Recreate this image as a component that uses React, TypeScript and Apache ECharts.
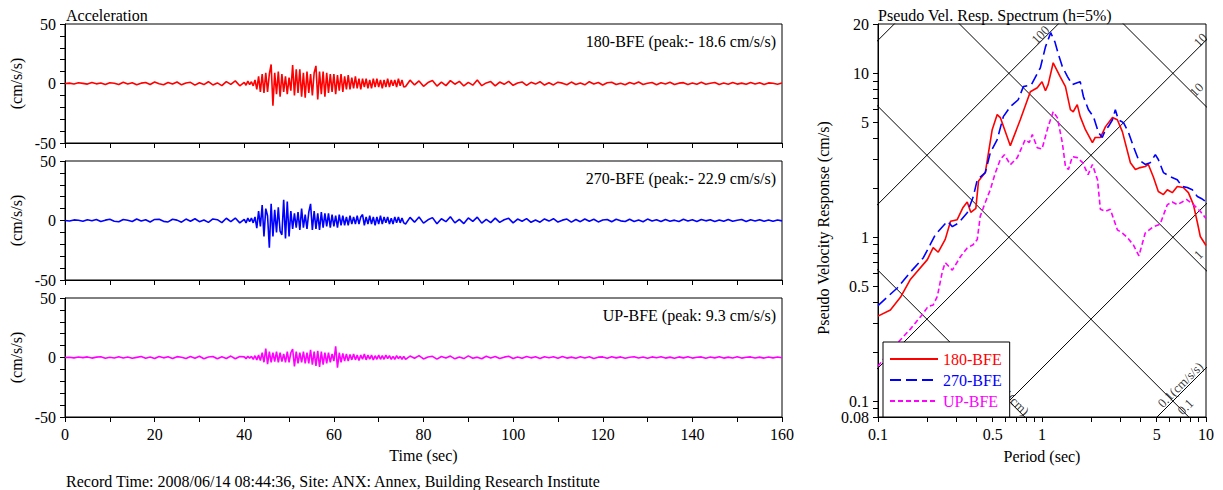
import React, { useEffect, useRef } from 'react';
import * as echarts from 'echarts';

const FONT = '"Liberation Serif", "Times New Roman", serif';

// ---------- Acceleration time histories (cm/s/s) ----------
// pre-event part: t = 0, 1, 2, ... 39 s
const RED_PRE = [0, 0.3, -0.4, 0.6, 0.1, -0.5, 0.8, -0.3, 0.4, -0.9, 0.6, 0.2, -0.8, 1.0, -0.4, 0.7, -1.1, 0.3, 0.9, -0.8, 1.2, -0.2, -1.0, 0.8, -0.5, 1.3, -1.1, 0.4, 1.0, -1.4, 0.6, -0.9, 1.5, -1.2, 0.5, -1.8, 1.6, -0.7, 2.2, -1.9];
const BLUE_PRE = [0, -0.4, 0.5, 0.2, -0.7, 0.6, -0.2, 0.9, -0.8, 0.3, 1.0, -0.6, -1.1, 0.8, 0.2, -0.9, 1.2, -0.5, 0.6, -1.3, 0.9, 1.1, -0.7, -1.2, 1.0, 0.3, -1.4, 1.2, -0.6, 1.5, -1.0, 0.4, -1.6, 1.3, 0.7, -1.8, 1.9, -0.9, 2.1, -2.0];
const MAG_PRE = [0, 0.2, -0.3, 0.4, -0.1, 0.5, -0.5, 0.3, 0.6, -0.6, 0.2, -0.4, 0.7, -0.5, 0.5, -0.7, 0.1, 0.8, -0.6, 0.4, -0.8, 0.9, -0.3, 0.6, -0.9, 0.7, 0.2, -0.8, 0.9, -0.6, 1.1, -1.0, 0.4, 0.9, -1.1, 0.6, -0.8, 1.2, -1.0, 0.8];

// strong-motion part: t = 40.0, 40.4, 40.8, ... s
const RED_STRONG = [1, -1.5, 2, -1, 1.5, -2, 3, -5, 6, -7, 8, -8, 9, -7, 8, 16, -18.6, 9, -9, 10, -11, 8, -7, 6, -9, 5, -6, 15.5, -10, 12, -8, 12, -11, 9, -12, 10, -8, 8, -10, 9, 14.8, -13.5, 10, -9, 10, -11, 9, -8, 8, -7, 8, -9, 7, -6, 8, -7, 6, -5, 7, -5, 5, -4, 6, -4, 4, -5, 4, -3, 4, -4, 3, -4, 4, -3, 4, -3, 3, -4, 3, -3, 4, -3, 3, -2, 3, -3, 4, -2, 3, -3];
const BLUE_STRONG = [1, -2, 2, -1, 2, -2, 3, -6.5, 8, -5, 13, -13.5, 10, 4, -22.9, 14, -13.5, 9, -10, 11, -9, -12, 17.5, -15, 16, -13.5, 8, -7, 6, -6, 7, -8, 10, -6, 5, -7, 7, 14, -8, 8, -7, 6, -8, 7, -6, 6, -5, 6, -6, 5, -5, 4, -6, 5, -4, 4, -4, 3, -4, 4, -3, 3, -3, 4, -3, 3, 5, -4, 3, -3, 4, -3, 3, -4, 3, -3, 4, -3, 3, -2, 3, -3, 2, -3, 3, -2, 3, -2, 2, -2];
const MAG_STRONG = [0.5, -1, 1, -0.5, 1, -1.5, 1.5, -2, 2, -2.5, 4, -4, 7.5, -5.5, 5, -4, 4, -3.5, 5, -4, 4, -3.5, 3, -4, 5, -4, 4, 7, -7.5, 5, -5, 4, -4, 5, -5, 4, -5, 6.5, -6, 5, -7, 5.5, -8, 5, -6, 4, -5, 4, -4, 3, -3, 9.3, -8.5, 4, -4, 3.5, -3, 3, -3, 2.5, -2, 3, -2, 2, -2.5, 2, -1.5, 3, -2, 2, -1.5, 2, -2, 1.5, -1.5, 2, -1.5, 1.5, -1.5, 2, -1, 1.5, -1.5, 1, -1.5, 1.5, -1, 1, -1.5, 1];

// coda part: t = 76, 77, ... 160 s
const RED_POST = [-2.5, 2.8, -1.2, 2.2, -2.4, 0.8, 2.5, -2.2, 1.2, -1.8, 2.4, -0.6, 1.8, -2.1, 0.9, -1.4, 3.0, -1.8, 0.5, 1.6, -2.0, 1.2, -0.7, 1.8, -1.5, 0.4, 1.3, -1.6, 1.0, -0.5, 1.5, -1.3, 0.6, -1.2, 1.1, 0.3, -1.0, 1.2, -0.8, 0.5, -1.1, 1.5, -0.4, 0.9, -1.2, 0.6, 1.0, -0.9, 0.3, -1.0, 0.9, -0.5, 1.2, -0.8, 0.2, 0.8, -1.0, 0.6, -0.4, 1.0, -0.9, 0.3, 0.7, -0.8, 0.5, -0.6, 1.0, -0.7, 0.2, 0.9, -0.8, 0.4, -0.6, 0.8, -0.5, 0.3, -0.7, 0.9, -0.4, 0.6, -0.8, 0.5, 0.2, -0.6, 0.4];
const BLUE_POST = [-3, 2.6, -1.4, 3.0, -2.2, 0.6, 2.4, -2.8, 1.5, -1.0, 3.2, -2.0, 1.0, -2.6, 2.2, -0.8, 2.8, -2.2, 0.9, -1.8, 2.0, -1.6, 0.6, 1.8, -2.0, 1.2, -0.6, 1.6, -1.5, 0.4, -1.4, 1.3, -0.5, 1.5, -1.3, 0.3, 1.2, -1.4, 0.8, -1.0, 1.3, -0.6, 1.0, -1.2, 0.4, 0.9, -1.1, 1.0, -0.3, -0.9, 1.1, -0.8, 0.5, -1.0, 1.2, -0.4, 0.7, -0.9, 0.9, -0.6, 0.3, -0.8, 1.0, -0.5, 0.6, -0.9, 0.8, -0.3, 0.7, -0.8, 0.5, -0.6, 0.9, -0.7, 0.2, 0.8, -0.9, 0.6, -0.4, 0.7, -0.6, 0.5, -0.7, 0.4, -0.3];
const MAG_POST = [-1.5, 1.2, -0.6, 1.6, -1.2, 0.4, 1.0, -1.4, 0.8, -0.5, 1.2, -1.1, 0.5, -0.9, 1.4, -0.6, 0.3, -1.1, 1.0, -0.4, 0.8, -0.9, 0.3, 1.0, -0.8, 0.5, -0.7, 0.8, -0.3, 0.6, -0.8, 0.7, -0.2, 0.6, -0.7, 0.9, -0.5, 0.3, -0.6, 0.7, -0.4, 0.6, -0.8, 0.3, 0.5, -0.6, 0.7, -0.3, 0.5, -0.6, 0.2, 0.6, -0.5, 0.4, -0.7, 0.5, -0.2, 0.6, -0.5, 0.3, -0.6, 0.5, -0.3, 0.6, -0.5, 0.2, 0.5, -0.6, 0.4, -0.3, 0.6, -0.5, 0.3, -0.4, 0.6, -0.5, 0.2, 0.5, -0.4, 0.3, -0.5, 0.4, -0.3, 0.4, -0.2];

const PRE_T0 = 0, PRE_DT = 1;
const STRONG_T0 = 40, STRONG_DT = 0.4;
const POST_T0 = 76, POST_DT = 1;

const WAVE_NAMES = ['180-BFE', '270-BFE', 'UP-BFE'];
const WAVE_TITLES = ['180-BFE (peak:- 18.6 cm/s/s)', '270-BFE (peak:- 22.9 cm/s/s)', 'UP-BFE (peak: 9.3 cm/s/s)'];
const COLORS = ['#ff0000', '#0000ff', '#ff00ff'];

// ---------- Pseudo velocity response spectra (h=5%) ----------
const RED_T = [0.1, 0.119, 0.137, 0.157, 0.2, 0.217, 0.233, 0.257, 0.277, 0.304, 0.33, 0.35, 0.368, 0.395, 0.41, 0.451, 0.497, 0.533, 0.557, 0.641, 0.737, 0.849, 0.936, 1.0, 1.05, 1.09, 1.17, 1.29, 1.39, 1.49, 1.55, 1.64, 1.71, 1.84, 2.03, 2.11, 2.27, 2.44, 2.69, 2.88, 3.09, 3.46, 3.71, 3.97, 4.26, 4.45, 4.77, 5.12, 5.5, 5.81, 6.23, 6.68, 7.27, 7.81, 8.38, 8.86, 9.23, 10];
const RED_V = [0.33, 0.36, 0.43, 0.55, 0.73, 0.865, 0.81, 0.97, 1.25, 1.28, 1.52, 1.64, 1.42, 1.5, 2.2, 2.48, 4.53, 5.6, 5.37, 3.62, 5.21, 7.72, 8.17, 8.89, 7.83, 8.53, 11.6, 9.55, 8.3, 6.0, 5.83, 6.44, 5.44, 4.53, 3.78, 4.06, 4.06, 4.73, 5.37, 5.21, 4.41, 2.85, 2.59, 2.66, 2.7, 2.78, 2.34, 1.9, 1.82, 1.95, 1.87, 2.04, 2.01, 1.87, 1.58, 1.23, 1.01, 0.89];
const BLUE_T = [0.1, 0.131, 0.157, 0.189, 0.208, 0.224, 0.265, 0.284, 0.309, 0.35, 0.381, 0.403, 0.451, 0.484, 0.533, 0.581, 0.641, 0.716, 0.77, 0.86, 0.977, 1.05, 1.13, 1.2, 1.26, 1.33, 1.43, 1.53, 1.64, 1.71, 1.79, 1.92, 2.06, 2.21, 2.33, 2.44, 2.54, 2.69, 2.8, 2.92, 3.14, 3.37, 3.61, 3.87, 4.26, 4.57, 4.91, 5.12, 5.5, 6.06, 6.68, 7.16, 7.69, 8.25, 8.86, 9.49, 10];
const BLUE_V = [0.383, 0.49, 0.61, 0.75, 0.9, 1.04, 1.25, 1.16, 1.22, 1.41, 1.77, 2.24, 2.48, 3.28, 3.94, 5.44, 6.27, 6.9, 8.3, 8.5, 10.8, 14.5, 17.7, 15.5, 13.0, 11.0, 9.55, 8.53, 8.77, 8.9, 7.2, 6.0, 5.44, 4.35, 4.06, 4.53, 4.73, 5.21, 6.0, 5.21, 5.0, 4.35, 3.57, 2.98, 2.78, 2.85, 3.19, 2.98, 2.48, 2.34, 2.24, 2.04, 2.01, 1.95, 1.77, 1.71, 1.65];
const MAG_T = [0.1, 0.116, 0.157, 0.186, 0.202, 0.217, 0.23, 0.247, 0.257, 0.284, 0.318, 0.35, 0.38, 0.403, 0.42, 0.451, 0.484, 0.52, 0.557, 0.59, 0.641, 0.707, 0.79, 0.836, 0.873, 0.936, 1.0, 1.09, 1.17, 1.24, 1.33, 1.39, 1.45, 1.53, 1.64, 1.77, 1.91, 2.03, 2.18, 2.27, 2.44, 2.61, 2.88, 3.09, 3.3, 3.6, 3.9, 4.26, 4.77, 5.25, 5.81, 6.23, 6.68, 7.15, 7.6, 8.38, 9.23, 10];
const MAG_V = [0.163, 0.198, 0.274, 0.337, 0.378, 0.386, 0.435, 0.62, 0.7, 0.63, 0.76, 0.86, 0.9, 0.97, 1.34, 1.63, 1.95, 2.48, 2.98, 3.19, 2.77, 3.06, 3.94, 3.78, 4.23, 3.52, 3.45, 4.73, 5.83, 5.37, 3.78, 2.7, 2.59, 3.1, 3.06, 2.85, 2.41, 2.78, 2.24, 1.48, 1.44, 1.48, 1.11, 1.06, 1.0, 0.9, 0.77, 1.06, 1.16, 1.2, 1.58, 1.64, 1.58, 1.64, 1.7, 1.58, 1.44, 1.3];

// tripartite grid levels
const PSA_LEVELS = [0.1, 1, 10, 100, 1000]; // cm/s/s
const SD_LEVELS = [0.01, 0.1, 1, 10]; // cm
const LINE_LABEL_TEXT = ['100', '10', '10', '1', '0.1(cm/s/s)', '0.1', '0.01(cm)'];
const LINE_LABEL_T = [0.977, 9.23, 8.75, 8.98, 6.97, 7.48, 0.641];
const LINE_LABEL_V = [17.2, 16.0, 7.95, 0.784, 0.126, 0.0924, 0.1068];
const LINE_LABEL_ROT = [45, 45, 45, 45, 45, 45, -45];

// axis ticks of the spectrum
const X_TICKS = [0.1, 0.2, 0.3, 0.4, 0.5, 0.6, 0.7, 0.8, 0.9, 1, 2, 3, 4, 5, 6, 7, 8, 9, 10];
const X_LABELS = [0.1, 0.5, 1, 5, 10];
const Y_TICKS = [0.08, 0.09, 0.1, 0.2, 0.3, 0.4, 0.5, 0.6, 0.7, 0.8, 0.9, 1, 2, 3, 4, 5, 6, 7, 8, 9, 10, 20];
const Y_LABELS = [0.08, 0.1, 0.5, 1, 5, 10, 20];

const lg = (v: number) => Math.log10(v);
const fmtLog = (v: number) => String(Number(Math.pow(10, v).toPrecision(3)));

function buildWave(pre: number[], strong: number[], post: number[]) {
  const out: number[][] = [];
  pre.forEach((v, i) => out.push([PRE_T0 + PRE_DT * i, v]));
  strong.forEach((v, i) => out.push([+(STRONG_T0 + STRONG_DT * i).toFixed(2), v]));
  post.forEach((v, i) => out.push([POST_T0 + POST_DT * i, v]));
  return out;
}

export default function App() {
  const ref = useRef<HTMLDivElement>(null);
  useEffect(() => {
    if (!ref.current) return;
    const chart = echarts.init(ref.current, null, { renderer: 'svg' });
    const waves = [
      buildWave(RED_PRE, RED_STRONG, RED_POST),
      buildWave(BLUE_PRE, BLUE_STRONG, BLUE_POST),
      buildWave(MAG_PRE, MAG_STRONG, MAG_POST),
    ];
    const spectra = [
      RED_T.map((t, i) => [lg(t), lg(RED_V[i])]),
      BLUE_T.map((t, i) => [lg(t), lg(BLUE_V[i])]),
      MAG_T.map((t, i) => [lg(t), lg(MAG_V[i])]),
    ];
    const tickFont = { color: '#000', fontSize: 16, fontFamily: FONT };
    const blackLine = { lineStyle: { color: '#000', width: 1 } };
    const gridBase = { show: true, borderColor: '#000', borderWidth: 1, backgroundColor: 'transparent', outerBoundsMode: 'none' };
    const grid = [
      { ...gridBase, left: 65, top: 24, width: 717, height: 119 },
      { ...gridBase, left: 65, top: 161, width: 717, height: 119 },
      { ...gridBase, left: 65, top: 298, width: 717, height: 119 },
      { ...gridBase, left: 878, top: 24, width: 328, height: 393 },
    ];
    const xAxis: any[] = [0, 1, 2].map((i) => ({
      type: 'value', gridIndex: i, min: 0, max: 160, interval: 10, position: 'bottom',
      axisLine: { show: true, onZero: false, ...blackLine },
      axisTick: { show: true, length: 5, ...blackLine },
      axisLabel: { show: i === 2, margin: 9, ...tickFont, formatter: (v: number) => (v % 20 === 0 ? String(v) : '') },
      splitLine: { show: false },
    }));
    xAxis.push({
      type: 'value', gridIndex: 3, min: lg(0.1), max: lg(10), position: 'bottom',
      axisLine: { show: true, onZero: false, ...blackLine },
      axisTick: { show: true, length: 5, customValues: X_TICKS.map(lg), ...blackLine },
      axisLabel: { show: true, margin: 9, ...tickFont, customValues: X_LABELS.map(lg), formatter: fmtLog },
      splitLine: { show: false },
    });
    const yAxis: any[] = [0, 1, 2].map((i) => ({
      type: 'value', gridIndex: i, min: -50, max: 50, interval: 10, position: 'left',
      axisLine: { show: true, onZero: false, ...blackLine },
      axisTick: { show: true, length: 5, ...blackLine },
      axisLabel: { show: true, margin: 9, ...tickFont, formatter: (v: number) => (v % 50 === 0 ? String(v) : '') },
      splitLine: { show: false },
    }));
    yAxis.push({
      type: 'value', gridIndex: 3, min: lg(0.08), max: lg(20), position: 'left',
      axisLine: { show: true, onZero: false, ...blackLine },
      axisTick: { show: true, length: 5, customValues: Y_TICKS.map(lg), ...blackLine },
      axisLabel: { show: true, margin: 9, ...tickFont, customValues: Y_LABELS.map(lg), formatter: fmtLog },
      splitLine: { show: false },
    });

    const series: any[] = [];
    waves.forEach((d, i) => {
      series.push({
        name: 'acc-' + WAVE_NAMES[i], type: 'line', xAxisIndex: i, yAxisIndex: i, data: d,
        showSymbol: false, symbol: 'none', silent: true,
        lineStyle: { color: COLORS[i], width: 1.6 }, z: 3,
      });
    });
    const T0 = 0.05, T1 = 20, TWO_PI = 2 * Math.PI;
    PSA_LEVELS.forEach((a) => {
      series.push({
        type: 'line', xAxisIndex: 3, yAxisIndex: 3, symbol: 'none', silent: true, z: 1, clip: true,
        data: [[lg(T0), lg((a * T0) / TWO_PI)], [lg(T1), lg((a * T1) / TWO_PI)]],
        lineStyle: { color: '#000', width: 1 },
      });
    });
    SD_LEVELS.forEach((d) => {
      series.push({
        type: 'line', xAxisIndex: 3, yAxisIndex: 3, symbol: 'none', silent: true, z: 1, clip: true,
        data: [[lg(T0), lg((TWO_PI * d) / T0)], [lg(T1), lg((TWO_PI * d) / T1)]],
        lineStyle: { color: '#000', width: 1 },
      });
    });
    series.push({
      type: 'scatter', xAxisIndex: 3, yAxisIndex: 3, symbolSize: 0, silent: true, z: 2,
      data: LINE_LABEL_TEXT.map((t, i) => ({
        name: t, value: [lg(LINE_LABEL_T[i]), lg(LINE_LABEL_V[i])],
        label: { rotate: LINE_LABEL_ROT[i] },
      })),
      label: { show: true, position: 'inside', formatter: '{b}', color: '#000', fontSize: 13, fontFamily: FONT },
    });
    const dashes: any[] = ['solid', [11, 5], [5, 3]];
    spectra.forEach((d, i) => {
      series.push({
        name: WAVE_NAMES[i], type: 'line', xAxisIndex: 3, yAxisIndex: 3, data: d,
        symbol: 'none', showSymbol: false, silent: true, z: 3,
        lineStyle: { color: COLORS[i], width: 1.6, type: dashes[i] },
        itemStyle: { color: COLORS[i] },
      });
    });

    const txt = (text: string, x: number, y: number, align = 'left', rotation = 0) => ({
      type: 'text', x, y, rotation, silent: true,
      style: { text, fill: '#000', fontSize: 16, fontFamily: FONT, align, verticalAlign: 'middle' },
    });
    const graphic: any[] = [
      txt('Acceleration', 66, 15),
      txt(WAVE_TITLES[0], 776, 41, 'right'),
      txt(WAVE_TITLES[1], 776, 178, 'right'),
      txt(WAVE_TITLES[2], 776, 315, 'right'),
      txt('(cm/s/s)', 16, 83.5, 'center', Math.PI / 2),
      txt('(cm/s/s)', 16, 220.5, 'center', Math.PI / 2),
      txt('(cm/s/s)', 16, 357.5, 'center', Math.PI / 2),
      txt('Time (sec)', 423.5, 455, 'center'),
      txt('Record Time: 2008/06/14 08:44:36, Site: ANX: Annex, Building Research Institute', 66, 481),
      txt('Pseudo Vel. Resp. Spectrum (h=5%)', 878, 15),
      txt('Pseudo Velocity Response (cm/s)', 823, 228, 'center', Math.PI / 2),
      txt('Period (sec)', 1042, 456, 'center'),
    ];

    chart.setOption({
      animation: false,
      textStyle: { fontFamily: FONT },
      grid, xAxis, yAxis, series, graphic,
      legend: {
        show: true, orient: 'vertical', left: 883, top: 342,
        itemWidth: 48, itemHeight: 14, itemGap: 5, padding: [9, 8, 8, 6],
        borderColor: '#000', borderWidth: 1, backgroundColor: '#fff',
        selectedMode: false, z: 10,
        itemStyle: { opacity: 0 },
        textStyle: { fontSize: 16, fontFamily: FONT },
        data: WAVE_NAMES.map((n, i) => ({ name: n, textStyle: { color: COLORS[i] } })),
      },
    });
    return () => chart.dispose();
  }, []);
  return <div ref={ref} style={{ position: 'fixed', left: 0, top: 0, width: 1223, height: 490, background: '#fff' }} />;
}
